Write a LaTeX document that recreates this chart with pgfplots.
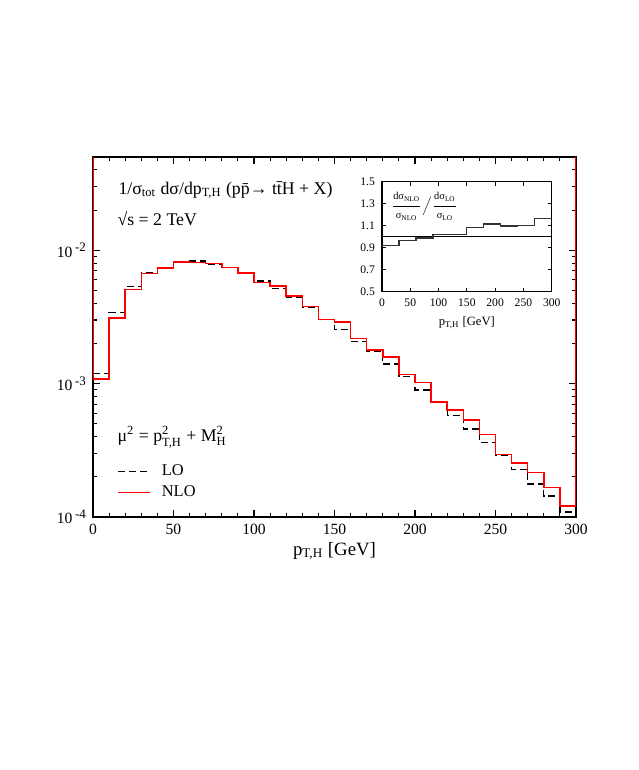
\documentclass[border=0pt]{standalone}
\usepackage{fontspec}
\setmainfont{Liberation Serif}
\usepackage{amsmath}
\usepackage{pgfplots}
\pgfplotsset{compat=1.18}

\newcommand{\tsub}[1]{\textsubscript{#1}}
\newcommand{\lbl}{\fontsize{8.9}{10}\selectfont}

\begin{document}
\begin{tikzpicture}
% page = 638x770 px, 1 px = 0.5pt, axis origin at px (93,517)
\path[use as bounding box] (-46.5pt,-126.5pt) rectangle (272.5pt,258.5pt);

\begin{axis}[
    at={(0pt,0pt)}, anchor=south west,
    scale only axis, width=241.5pt, height=180pt,
    xmin=0, xmax=300, ymin=1e-4, ymax=0.05,
    ymode=log,
    axis line style={line width=0.6pt},
    tick align=inside,
    xtick={0,50,...,300}, minor x tick num=4,
    ytick={1e-4,1e-3,1e-2},
    yticklabels={10\raisebox{0.75ex}{\,\fontsize{6.5}{7}\selectfont -4},
                 10\raisebox{0.75ex}{\,\fontsize{6.5}{7}\selectfont -3},
                 10\raisebox{0.75ex}{\,\fontsize{6.5}{7}\selectfont -2}},
    minor ytick={2e-4,3e-4,4e-4,5e-4,6e-4,7e-4,8e-4,9e-4,
                 2e-3,3e-3,4e-3,5e-3,6e-3,7e-3,8e-3,9e-3,
                 2e-2,3e-2,4e-2},
    major tick length=3.5pt, minor tick length=2pt,
    every tick/.style={black, line width=0.55pt},
    tick label style={font=\fontsize{7.8}{9}\selectfont},
    /pgf/number format/assume math mode=true,
    xlabel={p\tsub{T,H} [GeV]},
    xlabel style={font=\fontsize{9.4}{11}\selectfont, yshift=3pt},
    legend style={at={(axis description cs:0.0497,0.1486)}, anchor=north west,
        draw=none, fill=none, font=\fontsize{8.2}{9}\selectfont,
        inner sep=0pt, row sep=3pt, column sep=5.5pt,
        nodes={inner sep=0pt, text height=6pt, text depth=1.5pt}},
    legend cell align=left,
    legend image code/.code={\draw[#1] (0pt,0pt) -- (16pt,0pt);},
]
\addplot[const plot, black, line width=0.65pt, dash pattern=on 3.5pt off 2pt] coordinates {
    (0,1.192e-3)(10,3.42e-3)(20,5.37e-3)(30,6.81e-3)(40,7.42e-3)(50,8.27e-3)
    (60,8.32e-3)(70,7.90e-3)(80,7.42e-3)(90,6.69e-3)(100,5.89e-3)(110,5.17e-3)
    (120,4.45e-3)(130,3.70e-3)(140,3.04e-3)(150,2.55e-3)(160,2.08e-3)(170,1.731e-3)
    (180,1.400e-3)(190,1.124e-3)(200,8.94e-4)(210,7.31e-4)(220,5.74e-4)(230,4.56e-4)
    (240,3.63e-4)(250,2.91e-4)(260,2.28e-4)(270,1.77e-4)(280,1.44e-4)(290,1.09e-4)
    (300,1.09e-4)
};
\addplot[const plot, red, line width=0.75pt] coordinates {
    (0,0.05)
    (0,1.081e-3)(10,3.111e-3)(20,5.076e-3)(30,6.69e-3)(40,7.37e-3)(50,8.18e-3)
    (60,8.09e-3)(70,7.95e-3)(80,7.40e-3)(90,6.76e-3)(100,5.73e-3)(110,5.40e-3)
    (120,4.55e-3)(130,3.79e-3)(140,3.03e-3)(150,2.90e-3)(160,2.18e-3)(170,1.782e-3)
    (180,1.588e-3)(190,1.172e-3)(200,1.021e-3)(210,7.28e-4)(220,6.33e-4)(230,5.33e-4)
    (240,4.16e-4)(250,2.95e-4)(260,2.55e-4)(270,2.15e-4)(280,1.67e-4)(290,1.21e-4)
    (300,1.21e-4)
    (300,0.05)
};
\legend{LO,NLO}
\node[anchor=west, font=\lbl, inner sep=0pt] at (axis description cs:0.052,0.908)
    {1/σ\tsub{tot} dσ/dp\tsub{T,H} (p\={p}→ t\={t}H + X)};
\node[anchor=west, font=\lbl, inner sep=0pt] at (axis description cs:0.050,0.830)
    {√s = 2 TeV};
\node[anchor=west, font=\lbl, inner sep=0pt] at (axis description cs:0.050,0.222)
    {$\text{μ}^{\text{2}}\text{ = }\text{p}^{\text{2}}_{\text{T,H}}\text{ + }\text{M}^{\text{2}}_{\text{H}}$};
\end{axis}

\begin{axis}[
    at={(144.5pt,112.65pt)}, anchor=south west,
    scale only axis, width=84.85pt, height=55pt,
    xmin=0, xmax=300, ymin=0.5, ymax=1.5,
    axis background/.style={fill=white},
    axis line style={line width=0.6pt},
    tick align=inside,
    xtick={0,50,...,300},
    ytick={0.5,0.7,...,1.5},
    major tick length=2pt,
    every tick/.style={black, line width=0.45pt},
    tick label style={font=\fontsize{5.8}{7}\selectfont},
    yticklabel style={/pgf/number format/.cd, fixed, fixed zerofill, precision=1},
    /pgf/number format/assume math mode=true,
    xlabel={p\tsub{T,H} [GeV]},
    xlabel style={font=\fontsize{6.3}{7.5}\selectfont, yshift=2pt},
]
\addplot[black, line width=0.6pt] coordinates {(0,1)(300,1)};
\addplot[const plot, black!80, line width=0.6pt] coordinates {
    (0,0.918)(30,0.964)(60,0.988)(90,1.022)(120,1.022)(150,1.085)
    (180,1.115)(210,1.097)(240,1.103)(270,1.167)(300,1.167)
};
\node[anchor=west, font=\fontsize{5.2}{6}\selectfont, inner sep=0pt] at (axis description cs:0.05,0.773)
    {$\dfrac{\text{dσ\tsub{NLO}}}{\text{σ\tsub{NLO}}}\Big/\dfrac{\text{dσ\tsub{LO}}}{\text{σ\tsub{LO}}}$};
\end{axis}
\end{tikzpicture}
\end{document}
